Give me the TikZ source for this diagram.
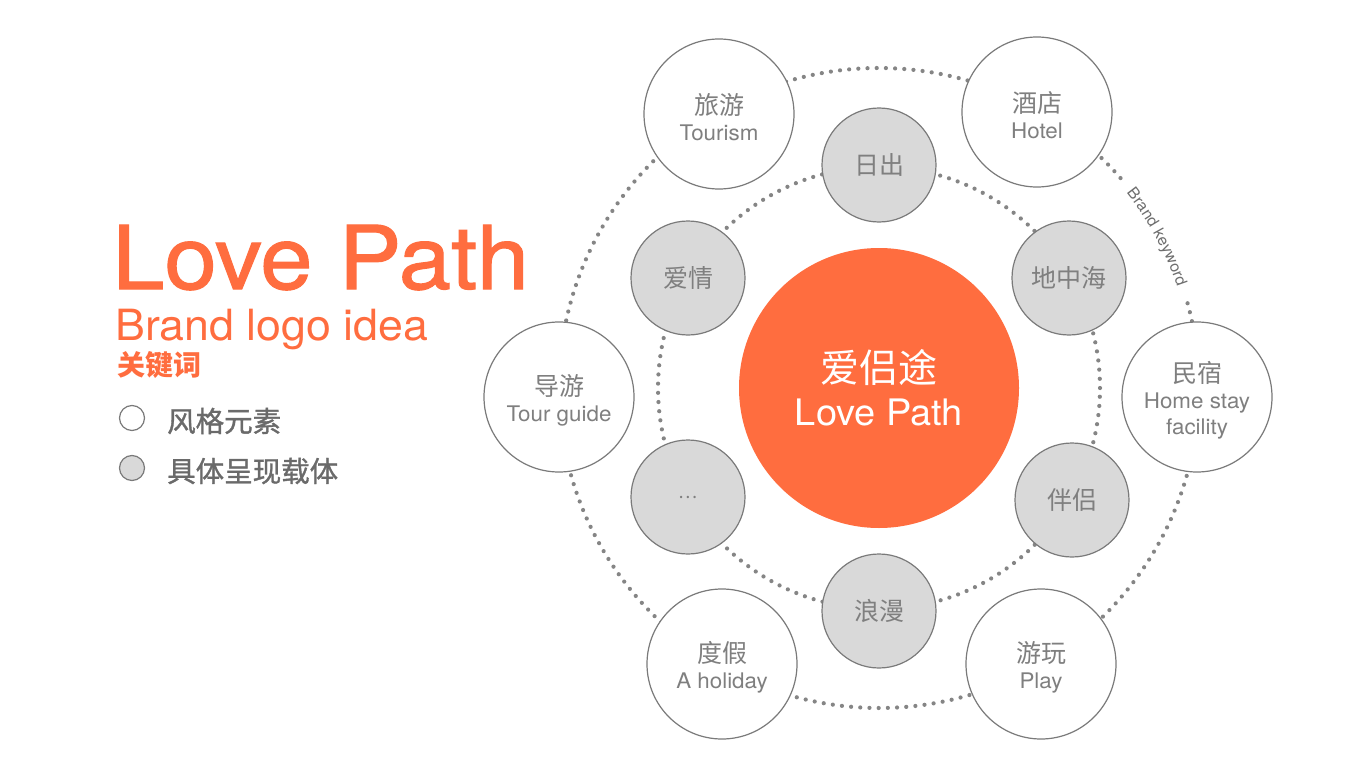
\documentclass[tikz,border=0pt]{standalone}
\usepackage{fontspec}
\setmainfont{TeX Gyre Heros}
\newfontfamily\cjk{Noto Sans CJK SC}
\newfontfamily\cjkmed[FakeBold=1.2]{Noto Sans CJK SC}
\newfontfamily\titlefont[FakeStretch=1.07,FakeBold=1.2]{TeX Gyre Heros}
\newfontfamily\widefont[FakeStretch=1.04]{TeX Gyre Heros}
\usetikzlibrary{decorations.text,calc}
\definecolor{brandorange}{HTML}{FF6D3F}
\definecolor{linegray}{HTML}{7A7A7A}
\definecolor{txtgray}{HTML}{7F7F7F}
\definecolor{leggray}{HTML}{6A6A6A}
\definecolor{fillgray}{HTML}{D9D9D9}
\definecolor{dotgray}{HTML}{858585}
\definecolor{kwgray}{HTML}{6E6E6E}
\begin{document}
\begin{tikzpicture}[x=1pt,y=1pt,
  ring/.style={draw=dotgray, line width=4.2pt, line cap=round, dash pattern=on 0pt off 9.2pt},
  outernode/.style={circle, draw=linegray, line width=1.2pt, fill=white, minimum size=150pt, inner sep=0pt},
  outerlabel/.style={align=center, text=txtgray, inner sep=0pt, yshift=-3pt, font=\widefont\fontsize{21.5}{26}\selectfont},
  innernode/.style={circle, draw=linegray, line width=1.2pt, fill=fillgray, minimum size=114pt, inner sep=0pt, text=txtgray, font=\cjk\fontsize{25}{28}\selectfont},
  legcircle/.style={circle, draw=linegray, line width=1.2pt, minimum size=25pt, inner sep=0pt},
  legtext/.style={anchor=west, inner sep=0pt, text=leggray, font=\cjkmed\fontsize{28.5}{28}\selectfont}
]
\useasboundingbox (0,0) rectangle (1366,-768);
\fill[white] (0,0) rectangle (1366,-768);

\coordinate (C) at (879,-388);

% rings
\draw[ring] (C) circle[radius=221];
\draw[ring] ($(C)+(41:320)$) arc[start angle=41, end angle=377, radius=320];
\path[decorate, decoration={text along path, text align=center,
  text={|\widefont\fontsize{15.5}{17}\selectfont\color{kwgray}|Brand keyword}}]
  ($(C)+(41:315)$) arc[start angle=41, end angle=16, radius=315];

% center
\node[circle, fill=brandorange, minimum size=280pt, inner sep=0pt, text=white, align=center,
  font=\widefont\fontsize{36.5}{43}\selectfont] (center) at (C)
  {{\cjk\fontsize{39}{43}\selectfont 爱侣途}\\Love Path};

% outer nodes
\node[outernode, label={[outerlabel]center:{\cjk\fontsize{25}{26}\selectfont 旅游}\\Tourism}] (lvyou) at (719,-114) {};
\node[outernode, label={[outerlabel]center:{\cjk\fontsize{25}{26}\selectfont 酒店}\\Hotel}] (jiudian) at (1037,-112) {};
\node[outernode, label={[outerlabel]center:{\cjk\fontsize{25}{26}\selectfont 民宿}\\Home stay\\facility}] (minsu) at (1197,-397) {};
\node[outernode, label={[outerlabel]center:{\cjk\fontsize{25}{26}\selectfont 游玩}\\Play}] (youwan) at (1041,-664) {};
\node[outernode, label={[outerlabel]center:{\cjk\fontsize{25}{26}\selectfont 度假}\\A holiday}] (dujia) at (722,-664) {};
\node[outernode, label={[outerlabel]center:{\cjk\fontsize{25}{26}\selectfont 导游}\\Tour guide}] (daoyou) at (559,-397) {};

% inner nodes
\node[innernode] (richu) at (879,-165) {\raisebox{-2pt}{日出}};
\node[innernode] (dizhonghai) at (1069,-278) {\raisebox{-2pt}{地中海}};
\node[innernode] (banlv) at (1072,-500) {\raisebox{-2pt}{伴侣}};
\node[innernode] (langman) at (879,-611) {\raisebox{-2pt}{浪漫}};
\node[innernode] (more) at (688,-497) {\fontsize{18}{20}\selectfont …};
\node[innernode] (aiqing) at (688,-278) {\raisebox{-2pt}{爱情}};

% left titles
\node[anchor=base west, inner sep=0pt, text=brandorange, font=\titlefont\fontsize{88}{88}\selectfont] (title) at (112,-289) {Love Path};
\node[anchor=base west, inner sep=0pt, text=brandorange, font=\widefont\fontsize{43}{43}\selectfont] (subtitle) at (115,-340) {Brand logo idea};
\node[anchor=west, inner sep=0pt, text=brandorange, font=\cjk\bfseries\fontsize{28}{28}\selectfont] (kw) at (117,-365) {关键词};

% legend
\node[legcircle, fill=white] (leg1) at (132,-418) {};
\node[legtext] (leg1t) at (167,-421) {风格元素};
\node[legcircle, fill=fillgray] (leg2) at (132,-468) {};
\node[legtext] (leg2t) at (167,-471) {具体呈现载体};
\end{tikzpicture}
\end{document}
